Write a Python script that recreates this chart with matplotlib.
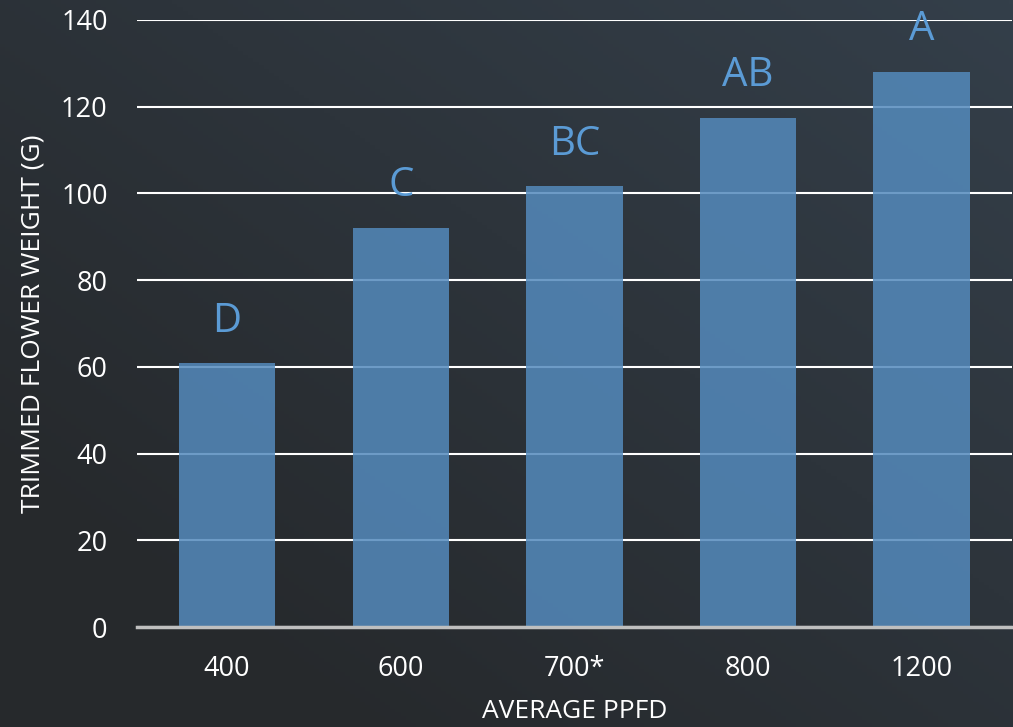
import matplotlib
matplotlib.use("Agg")
import matplotlib.pyplot as plt
import numpy as np

# data
categories = ["400", "600", "700*", "800", "1200"]
weights = [60.8, 92.0, 101.6, 117.5, 128.0]
letters = ["D", "C", "BC", "AB", "A"]

plt.rcParams['font.family'] = ['Open Sans', 'DejaVu Sans']

fig = plt.figure(figsize=(10.13, 7.27), dpi=100)

# diagonal gradient background
bg = fig.add_axes([0, 0, 1, 1], zorder=-10)
yy, xx = np.mgrid[0:1:200j, 0:1:200j]
t = np.clip(0.6 * xx + 0.6 * yy - 0.2, 0, 1)
c0 = np.array([0x26, 0x29, 0x2c]) / 255
c1 = np.array([0x34, 0x3f, 0x4a]) / 255
img = c0[None, None, :] * (1 - t[..., None]) + c1[None, None, :] * t[..., None]
bg.imshow(img, origin="lower", extent=[0, 1, 0, 1], aspect="auto")
bg.axis("off")

ax = fig.add_axes([0.135, 0.1375, 0.864, 0.835])
ax.set_facecolor("none")

x = np.arange(len(categories))
ax.bar(x, weights, width=0.555, color="#548abc", alpha=0.85, zorder=3)
for xi, w, lab in zip(x, weights, letters):
    ax.text(xi, w + 5, lab, ha="center", va="bottom", fontsize=29,
            color="#5b9bd5", zorder=4)

ax.set_ylim(0, 140)
ax.set_xlim(-0.52, len(categories) - 0.48)
ax.set_yticks(np.arange(0, 141, 20))
ax.set_xticks(x)
ax.set_xticklabels(categories)
ax.yaxis.grid(True, color="white", linewidth=1.5, zorder=1)
ax.set_axisbelow(True)
for s in ["top", "right", "left"]:
    ax.spines[s].set_visible(False)
ax.spines["bottom"].set_color("#bfbfbf")
ax.spines["bottom"].set_linewidth(2.5)
ax.spines["bottom"].set_zorder(5)
ax.tick_params(axis="both", length=0, colors="white", labelsize=19.5)
ax.tick_params(axis="x", pad=20)
ax.tick_params(axis="y", pad=21)

ax.set_xlabel("AVERAGE PPFD", color="white", fontsize=19, labelpad=12)
ax.set_ylabel("TRIMMED FLOWER WEIGHT (G)", color="white", fontsize=19, labelpad=11)

fig.savefig("out.png", dpi=100)
